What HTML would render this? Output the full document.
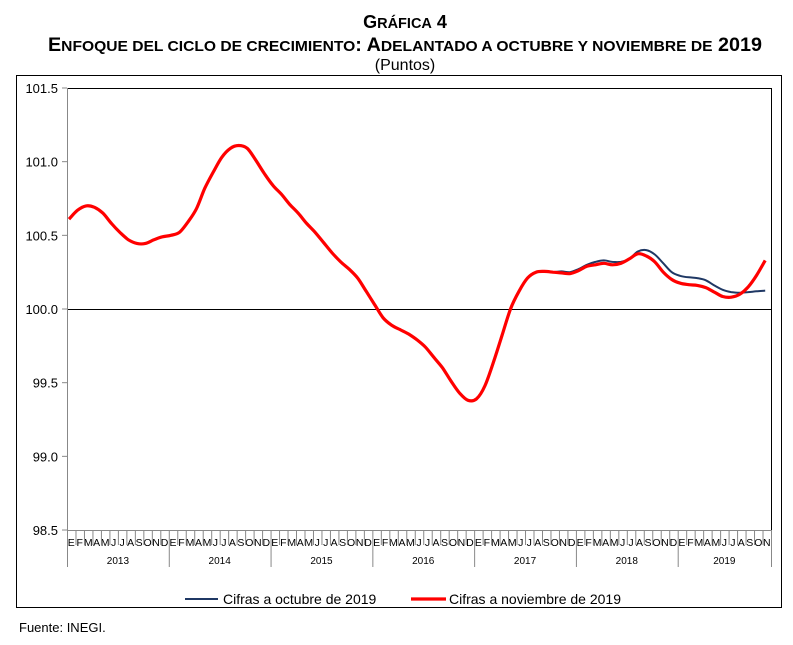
<!DOCTYPE html>
<html><head><meta charset="utf-8"><style>
body{margin:0;background:#fff;font-family:"Liberation Sans",Arial,sans-serif}
svg{display:block}
</style></head><body>
<svg id="s" width="793" height="645" xmlns="http://www.w3.org/2000/svg" font-family="Liberation Sans, Arial, sans-serif">
<text x="405" y="28" text-anchor="middle" font-weight="bold" font-size="18">G<tspan font-size="14.5">RÁFICA</tspan> 4</text>
<text x="405" y="51" text-anchor="middle" font-weight="bold" font-size="19" textLength="714" lengthAdjust="spacingAndGlyphs">E<tspan font-size="15">NFOQUE DEL CICLO DE CRECIMIENTO</tspan>: A<tspan font-size="15">DELANTADO A OCTUBRE Y NOVIEMBRE DE</tspan> 2019</text>
<text x="405" y="70" text-anchor="middle" font-size="16">(Puntos)</text>
<rect x="16.5" y="75.5" width="765" height="532" fill="none" stroke="#000" stroke-width="1"/>
<g id="ax"></g>
<line x1="67" y1="88.5" x2="771.5" y2="88.5" stroke="#000"/>
<line x1="771.5" y1="88" x2="771.5" y2="530" stroke="#000"/>
<line x1="67" y1="309.5" x2="771" y2="309.5" stroke="#000"/>
<line x1="67.5" y1="88" x2="67.5" y2="530" stroke="#888"/>
<line x1="67" y1="530.5" x2="771" y2="530.5" stroke="#888"/>
<path id="blue" fill="none" stroke="#1f3864" stroke-width="2"/>
<path id="red" fill="none" stroke="#ff0000" stroke-width="3.2"/>
<line x1="185" y1="599" x2="218" y2="599" stroke="#1f3864" stroke-width="2"/>
<text x="223" y="604" font-size="14">Cifras a octubre de 2019</text>
<line x1="411" y1="599" x2="446" y2="599" stroke="#ff0000" stroke-width="3.2"/>
<text x="449" y="604" font-size="14">Cifras a noviembre de 2019</text>
<text x="19" y="632" font-size="13">Fuente: INEGI.</text>
</svg>
<script>
var NS="http://www.w3.org/2000/svg",ax=document.getElementById('ax');
function el(t,a,txt){var e=document.createElementNS(NS,t);for(var k in a)e.setAttribute(k,a[k]);if(txt)e.textContent=txt;ax.appendChild(e);}
var labs=["101.5","101.0","100.5","100.0","99.5","99.0","98.5"];
for(var i=0;i<7;i++){var y=88+i*73.67;el('text',{x:58,y:y+5,'text-anchor':'end','font-size':13},labs[i]);el('line',{x1:62,y1:y,x2:67,y2:y,stroke:'#888'});}
var mw=704/83,M="EFMAMJJASOND";
for(var i=0;i<83;i++){var x=67+i*mw;el('text',{x:x+mw/2,y:546,'text-anchor':'middle','font-size':10.5},M[i%12]);
 el('line',{x1:x+0.5,y1:530,x2:x+0.5,y2:(i%12==0?567:545),stroke:'#888'});}
el('line',{x1:771.5,y1:530,x2:771.5,y2:567,stroke:'#888'});
for(var yr=0;yr<7;yr++){var x0=67+yr*12*mw,x1=Math.min(771,x0+12*mw);el('text',{x:(x0+x1)/2,y:564,'text-anchor':'middle','font-size':10},String(2013+yr));}
var red=[100.61,100.67,100.70,100.69,100.65,100.58,100.52,100.47,100.445,100.445,100.47,100.49,
100.50,100.52,100.59,100.68,100.82,100.93,101.03,101.09,101.11,101.09,101.01,100.92,
100.84,100.78,100.71,100.65,100.58,100.52,100.45,100.38,100.32,100.27,100.21,100.12,
100.03,99.94,99.89,99.86,99.83,99.79,99.74,99.67,99.60,99.51,99.43,99.38,
99.39,99.48,99.64,99.82,100.00,100.12,100.21,100.25,100.255,100.25,100.245,100.24,
100.26,100.29,100.30,100.31,100.30,100.31,100.34,100.375,100.36,100.32,100.25,100.20,
100.175,100.165,100.16,100.145,100.115,100.085,100.08,100.10,100.15,100.23,100.33];
var blue=red.slice(0,58).concat([100.255,100.25,
100.27,100.30,100.32,100.33,100.32,100.32,100.34,100.39,100.40,100.37,100.31,100.25,
100.225,100.215,100.21,100.195,100.16,100.13,100.115,100.11,100.115,100.12,100.125]);
function path(d){var p=d.map(function(v,i){return [69+i*8.49,309-(v-100)*147.33];});
 var s="M"+p[0][0].toFixed(1)+","+p[0][1].toFixed(1);
 for(var i=0;i<p.length-1;i++){var a=p[i-1]||p[i],b=p[i],c=p[i+1],e=p[i+2]||c;
  s+=" C"+(b[0]+(c[0]-a[0])/6).toFixed(1)+","+(b[1]+(c[1]-a[1])/6).toFixed(1)+" "+(c[0]-(e[0]-b[0])/6).toFixed(1)+","+(c[1]-(e[1]-b[1])/6).toFixed(1)+" "+c[0].toFixed(1)+","+c[1].toFixed(1);}
 return s;}
document.getElementById('blue').setAttribute('d',path(blue));
document.getElementById('red').setAttribute('d',path(red));
</script>
</body></html>
